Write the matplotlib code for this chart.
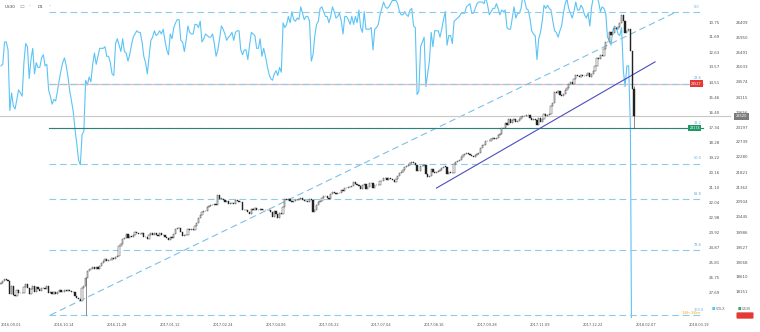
import matplotlib
matplotlib.use("Agg")
import matplotlib.pyplot as plt

# US30 daily closes, Sep 2016 .. Feb 2018
us30_sep16 = [18419, 18492, 18539, 18526, 18480, 18085, 18326, 18067, 18034, 18213, 18124,
              18120, 18130, 18294, 18392, 18261, 18094, 18228, 18339, 18144, 18308]
us30_oct16 = [18254, 18168, 18281, 18269, 18240, 18329, 18129, 18144, 18098, 18138, 18087,
              18162, 18203, 18162, 18145, 18223, 18170, 18199, 18170, 18161, 18142]
us30_nov16 = [18037, 17959, 17930, 17888, 18260, 18332, 18590, 18807, 18848, 18869, 18924,
              18868, 18904, 18868, 18957, 19024, 19084, 19153, 19098, 19122, 19124]
us30_dec16 = [19192, 19171, 19217, 19252, 19549, 19615, 19757, 19797, 19912, 19793, 19853,
              19843, 19884, 19975, 19942, 19919, 19934, 19946, 19834, 19820, 19763]
us30_jan17 = [19882, 19942, 19899, 19964, 19887, 19856, 19954, 19892, 19886, 19827,
              19805, 19733, 19827, 19800, 19913, 20069, 20101, 20094, 19971, 19864]
us30_feb17 = [19891, 19885, 20071, 20053, 20090, 20054, 20173, 20269, 20413, 20504,
              20612, 20620, 20624, 20744, 20776, 20811, 20822, 20838, 20813]
us30_mar17 = [21116, 21003, 21005, 20954, 20905, 20924, 20856, 20858, 20881, 20837, 20950,
              20934, 20914, 20906, 20669, 20661, 20656, 20596, 20550, 20701, 20659, 20728, 20663]
us30_apr17 = [20650, 20689, 20648, 20662, 20656, 20658, 20651, 20591, 20453, 20636,
              20523, 20404, 20578, 20548, 20763, 20996, 20975, 20981, 20941]
us30_may17 = [20913, 20949, 20957, 20951, 21007, 21012, 20975, 20943, 20919, 20896, 21000,
              20979, 20607, 20663, 20804, 20895, 20937, 21012, 21082, 21080, 21029, 21009]
us30_jun17 = [21144, 21206, 21184, 21136, 21173, 21182, 21271, 21235, 21329, 21328, 21374,
              21360, 21384, 21528, 21467, 21410, 21397, 21311, 21410, 21454, 21287, 21350]
us30_jul17 = [21479, 21478, 21320, 21414, 21409, 21409, 21532, 21553, 21637, 21629,
              21574, 21640, 21611, 21580, 21513, 21613, 21711, 21796, 21830, 21891]
us30_aug17 = [21963, 22016, 22026, 22092, 22118, 22085, 22048, 21844, 21858, 21993, 21998,
              22024, 21750, 21674, 21703, 21899, 21812, 21783, 21808, 21865, 21892, 21948, 21988]
us30_sep17 = [21987, 21753, 21807, 21784, 21797, 22057, 22118, 22158, 22203, 22268,
              22331, 22370, 22412, 22359, 22349, 22296, 22284, 22340, 22381, 22405]
us30_oct17 = [22557, 22641, 22661, 22775, 22773, 22761, 22830, 22872, 22841, 22871, 22956,
              22997, 23157, 23163, 23328, 23273, 23441, 23329, 23400, 23434, 23348, 23377]
us30_nov17 = [23435, 23516, 23539, 23548, 23557, 23563, 23462, 23422, 23439, 23409, 23271,
              23458, 23358, 23430, 23590, 23526, 23557, 23580, 23836, 23940, 24272]
us30_dec17 = [24231, 24290, 24180, 24140, 24211, 24329, 24386, 24504, 24585, 24508,
              24651, 24792, 24754, 24726, 24782, 24754, 24746, 24774, 24838, 24719]
us30_jan18 = [24824, 24922, 25075, 25295, 25283, 25385, 25369, 25574, 25803, 25792, 26115,
              26017, 26071, 26214, 26210, 26252, 26392, 26616, 26439, 26076, 26149]
us30_feb18 = [26186, 25521, 24345, 23520]

us30_close = (us30_sep16 + us30_oct16 + us30_nov16 + us30_dec16 + us30_jan17 + us30_feb17
              + us30_mar17 + us30_apr17 + us30_may17 + us30_jun17 + us30_jul17 + us30_aug17
              + us30_sep17 + us30_oct17 + us30_nov17 + us30_dec17 + us30_jan18 + us30_feb18)
us30_first_open = 18400
# the few bars with long wicks (election night, last bar)
wick_idx = [48, 359]
wick_low = [17450, 23180]
wick_high = [18620, 24460]

# volatility (VOLX) closes, inverted scale
vix_sep16 = [13.5, 13.4, 12.0, 12.0, 12.5, 16.3, 15.2, 16.0, 16.2, 15.6, 15.0, 15.2, 15.4,
             13.3, 12.1, 12.3, 14.3, 13.1, 12.4, 14.0, 13.3]
vix_oct16 = [13.6, 13.6, 13.0, 12.8, 13.5, 13.4, 15.0, 15.4, 15.9, 15.6, 15.7, 15.1, 14.4,
             13.8, 13.3, 13.0, 13.5, 14.2, 15.1, 15.7, 16.4]
vix_nov16 = [17.5, 18.4, 19.4, 19.7, 17.8, 17.6, 14.4, 14.7, 14.2, 14.5, 13.4, 12.7, 13.4,
             12.9, 12.4, 12.4, 12.4, 12.3, 12.9, 12.9, 13.3]
vix_dec16 = [14.0, 14.1, 12.1, 11.8, 12.2, 12.6, 11.8, 12.6, 12.7, 13.2, 12.8, 12.2, 11.7,
             11.5, 11.3, 11.4, 11.4, 12.0, 12.9, 13.3, 14.0]
vix_jan17 = [12.9, 11.9, 11.7, 11.3, 11.6, 11.5, 11.3, 11.5, 11.2, 11.9, 12.5, 12.8, 11.5,
             11.8, 11.1, 10.8, 10.6, 10.6, 11.9, 12.0]
vix_feb17 = [12.6, 11.9, 11.0, 11.4, 11.5, 11.5, 10.9, 10.9, 11.1, 10.7, 12.0, 11.8, 11.5,
             11.6, 11.7, 11.7, 11.5, 12.1, 12.9]
vix_mar17 = [12.5, 11.8, 11.0, 11.2, 11.5, 11.9, 11.7, 11.6, 11.4, 11.9, 11.4, 11.3, 11.3,
             12.5, 12.8, 12.5, 12.5, 13.1, 12.2, 11.4, 11.5, 11.6, 12.4]
vix_apr17 = [12.4, 11.8, 12.9, 12.4, 12.9, 13.5, 14.0, 14.3, 14.4, 14.0, 13.8, 14.1, 13.6,
             13.9, 10.8, 11.1, 10.9, 10.4, 10.8]
vix_may17 = [10.1, 10.6, 10.7, 10.5, 10.6, 9.8, 10.2, 10.6, 10.4, 10.4, 10.7, 13.2, 12.8,
             11.6, 10.9, 10.7, 9.9, 9.8, 10.1, 10.4, 10.4, 10.8]
vix_jun17 = [10.4, 9.8, 10.1, 10.5, 10.4, 10.2, 10.7, 11.5, 10.4, 10.4, 10.6, 10.9, 10.4,
             10.9, 10.4, 10.8, 10.0, 11.1, 11.4, 10.1, 11.2, 11.2]
vix_jul17 = [11.2, 11.1, 12.5, 11.2, 11.1, 10.9, 10.3, 9.9, 9.5, 9.8, 9.9, 9.8, 9.6, 9.4,
             9.4, 9.4, 9.6, 10.1, 10.3, 10.3]
vix_aug17 = [10.1, 10.3, 10.4, 10.0, 9.9, 11.0, 11.1, 15.3, 15.1, 12.3, 12.0, 11.7, 14.8,
             14.0, 13.2, 11.4, 12.3, 11.3, 11.3, 11.3, 11.7, 11.2, 10.6]
vix_sep17 = [10.1, 12.2, 11.6, 11.6, 12.1, 10.7, 10.6, 10.5, 10.4, 10.2, 10.2, 10.2, 9.8,
             9.7, 9.6, 10.2, 10.2, 9.9, 9.6, 9.5]
vix_oct17 = [9.5, 9.5, 9.6, 9.2, 9.7, 10.3, 10.1, 9.9, 9.9, 9.6, 9.9, 10.3, 10.0, 10.1,
             10.0, 11.1, 11.2, 11.2, 10.5, 9.8, 10.5, 10.2]
vix_nov17 = [10.2, 9.9, 9.1, 9.4, 9.9, 10.0, 10.5, 11.3, 11.5, 11.6, 13.1, 11.8, 11.4,
             10.7, 9.7, 9.9, 9.7, 9.9, 10.0, 10.7, 11.3]
vix_dec17 = [11.4, 11.7, 11.3, 11.0, 10.2, 9.6, 9.3, 9.9, 10.2, 10.5, 10.1, 9.5, 10.0,
             10.0, 9.7, 9.9, 10.3, 10.5, 10.2, 11.0]
vix_jan18 = [9.8, 9.2, 9.2, 9.2, 9.5, 10.1, 9.8, 9.9, 10.2, 11.7, 11.9, 12.2, 11.3, 11.0,
             11.1, 11.5, 11.6, 11.1, 13.8, 14.8, 13.5]
vix_feb18 = [13.5, 17.3, 37.3, 30.0]

vix_close = (vix_sep16 + vix_oct16 + vix_nov16 + vix_dec16 + vix_jan17 + vix_feb17
             + vix_mar17 + vix_apr17 + vix_may17 + vix_jun17 + vix_jul17 + vix_aug17
             + vix_sep17 + vix_oct17 + vix_nov17 + vix_dec17 + vix_jan18 + vix_feb18)

assert len(us30_close) == len(vix_close)

date_labels = ["2016.09.01", "2016.10.14", "2016.11.28", "2017.01.12", "2017.02.24",
               "2017.04.06", "2017.05.22", "2017.07.04", "2017.08.16", "2017.09.28",
               "2017.11.09", "2017.12.22", "2018.02.07", "2018.03.19"]
bars_per_label = 30

us30_ticks = [26409, 25950, 25491, 25033, 24574, 24115, 23656, 23197, 22739, 22280,
              21821, 21362, 20904, 20445, 19986, 19527, 19068, 18610, 18151]
vix_ticks = [10.75, 11.69, 12.63, 13.57, 14.51, 15.46, 16.40, 17.34, 18.28, 19.22,
             20.16, 21.10, 22.04, 22.98, 23.92, 24.87, 25.81, 26.75, 27.69]

fib_levels = [0.0, 23.6, 38.2, 50.0, 61.8, 78.6, 100.0]
fib_high = 26715
fib_low = 17446
fib_start, fib_end, fib_stop = 28, 383, 398

trend_x = [247, 371]
trend_y = [21330, 25190]

current_price = 23520
red_level_label = "24527"
green_level_label = "23174"

# ---- figure ----
W, H = 760, 332
fig = plt.figure(figsize=(W / 100, H / 100), dpi=100)
fig.patch.set_facecolor("white")

ax_right_px, ax_bottom_px = 705, 318
rect = [0, (H - ax_bottom_px) / H, ax_right_px / W, ax_bottom_px / H]

px_per_bar = 1.763
us30_per_px = 458.78 / 15
vix_per_px = 0.94 / 15
tick_row = 22  # pixel row of the first tick label

x_left = -1 / px_per_bar
x_right = (ax_right_px - 1) / px_per_bar
us30_top = us30_ticks[0] + tick_row * us30_per_px
us30_bot = us30_ticks[0] - (ax_bottom_px - tick_row) * us30_per_px
vix_top = vix_ticks[0] - tick_row * vix_per_px
vix_bot = vix_ticks[0] + (ax_bottom_px - tick_row) * vix_per_px

ax_v = fig.add_axes(rect)
ax = fig.add_axes(rect, facecolor="none")
for a in (ax, ax_v):
    a.set_xlim(x_left, x_right)
    for s in a.spines.values():
        s.set_visible(False)
ax.set_ylim(us30_bot, us30_top)
ax_v.set_ylim(vix_bot, vix_top)

# right scales
ax.yaxis.tick_right()
ax.set_yticks(us30_ticks)
ax.set_yticklabels([str(t) for t in us30_ticks])
ax.tick_params(axis="y", length=0, pad=22.3, labelsize=2.9, labelcolor="#555555")
ax_v.yaxis.tick_right()
ax_v.set_yticks(vix_ticks)
ax_v.set_yticklabels([f"{t:.2f}" for t in vix_ticks])
ax_v.tick_params(axis="y", length=0, pad=2.9, labelsize=2.9, labelcolor="#555555")

# dates
ax.set_xticks([k * bars_per_label for k in range(len(date_labels))])
ax.set_xticklabels(date_labels, ha="left")
ax.tick_params(axis="x", length=0, pad=3.6, labelsize=2.6, labelcolor="#555555")
ax_v.set_xticks([])

idx = list(range(len(us30_close)))

# volatility line (under the candles)
ax_v.plot(idx, vix_close, color="#5bc4f5", lw=0.8, zorder=2)

# fibonacci levels
span = fib_high - fib_low
for lv in fib_levels:
    price = fib_high - lv / 100 * span
    ax.plot([fib_start - 0.5, fib_stop], [price, price], color="#8fcbe9", lw=0.8,
            dashes=(6, 3.5), zorder=1)
    ax.text(fib_stop - 5, price + 3.2 * us30_per_px, f"{lv:.1f}", fontsize=2.5,
            color="#5aaee0", ha="left", va="bottom", clip_on=False)
ax.plot([fib_start, fib_end], [fib_low, fib_high], color="#7cc0e8", lw=0.8,
        dashes=(6, 3.5), zorder=1)

# alert lines
red_price = fib_high - 0.236 * span
green_price = fib_high - 0.382 * span
ax.plot([fib_start - 0.5, fib_stop], [red_price, red_price], color="#f2b6b6", lw=0.9, zorder=0.9)
ax.plot([fib_start - 0.5, fib_stop], [green_price, green_price], color="#2f7f7a", lw=0.8, zorder=1.1)
ax.text(fib_stop - 6.5, red_price, red_level_label, fontsize=2.4, color="white", ha="left",
        va="center", clip_on=False, zorder=6,
        bbox=dict(boxstyle="square,pad=0.35", fc="#e53935", ec="none"))
ax.text(fib_stop - 7.5, green_price, green_level_label, fontsize=2.4, color="white", ha="left",
        va="center", clip_on=False, zorder=6,
        bbox=dict(boxstyle="square,pad=0.35", fc="#1e9a68", ec="none"))

# current price line and tag
ax.plot([x_left, x_right + 14], [current_price, current_price], color="#c8c8c8", lw=0.8,
        clip_on=False, zorder=1)
ax.text(x_right + 17.5, current_price, str(current_price), fontsize=2.6, color="white",
        ha="left", va="center", clip_on=False, zorder=6,
        bbox=dict(boxstyle="square,pad=0.4", fc="#7b7b7b", ec="none"))

# trend line
ax.plot(trend_x, trend_y, color="#4c4cc0", lw=0.8, zorder=3)

# candles
prev = us30_first_open
for i, c in enumerate(us30_close):
    o = prev
    lo, hi = min(o, c), max(o, c)
    if i in wick_idx:
        k = wick_idx.index(i)
        ax.vlines(i, wick_low[k], wick_high[k], color="#333333", lw=0.4, zorder=4)
    if hi - lo < 8:
        hi = lo + 8
    face = "white" if c >= o else "#222222"
    ax.bar(i, hi - lo, bottom=lo, width=0.72, color=face, edgecolor="#222222",
           linewidth=0.3, zorder=4)
    prev = c

# header and legend
def ftxt(x, y, s, **kw):
    fig.text(x / W, 1 - y / H, s, **kw)

ftxt(5, 7, "US30", fontsize=3, color="#444444", va="center")
ftxt(20, 7, "\u25ad", fontsize=3.5, color="#999999", va="center")
ftxt(29, 7, "\u02c5", fontsize=3, color="#999999", va="center")
ftxt(38, 7, "D1", fontsize=3, color="#444444", va="center")
ftxt(49, 7, "\u02c5", fontsize=3, color="#999999", va="center")

ftxt(682, 313, "16h 16m", fontsize=3, color="#f5a623", va="center")
ftxt(712, 309, "\u25a0", fontsize=2.6, color="#5bc4f5", va="center")
ftxt(716, 309, "VOLX", fontsize=2.5, color="#666666", va="center")
ftxt(738, 309, "\u25a0", fontsize=2.6, color="#2fae6b", va="center")
ftxt(742, 309, "US30", fontsize=2.5, color="#666666", va="center")
fig.patches.append(matplotlib.patches.FancyBboxPatch(
    (738 / W, 1 - 318 / H), 14 / W, 5 / H, boxstyle="round,pad=0.002",
    fc="#e53935", ec="none", transform=fig.transFigure, figure=fig))

fig.savefig("out.png", dpi=100, facecolor="white")
